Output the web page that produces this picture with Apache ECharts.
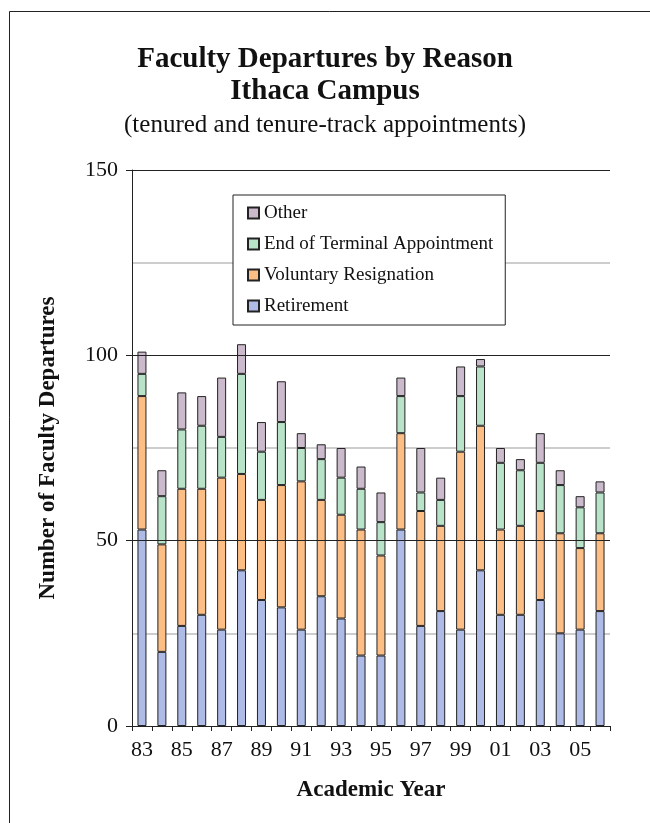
<!DOCTYPE html>
<html>
<head>
<meta charset="utf-8">
<script src="https://cdn.jsdelivr.net/npm/echarts@6/dist/echarts.min.js"></script>
<style>
  html, body { margin: 0; padding: 0; background: #fff; }
  #chart { width: 650px; height: 823px; }
</style>
</head>
<body>
<div id="chart"></div>
<script>
// academic years (tick labels)
const years = ['83', '84', '85', '86', '87', '88', '89', '90', '91', '92', '93', '94',
  '95', '96', '97', '98', '99', '00', '01', '02', '03', '04', '05', '06']

// departures by reason
const retirement = [53, 20, 27, 30, 26, 42, 34, 32, 26, 35, 29, 19, 19, 53, 27, 31, 26, 42, 30, 30, 34, 25, 26, 31]
const voluntary = [36, 29, 37, 34, 41, 26, 27, 33, 40, 26, 28, 34, 27, 26, 31, 23, 48, 39, 23, 24, 24, 27, 22, 21]
const terminal = [6, 13, 16, 17, 11, 27, 13, 17, 9, 11, 10, 11, 9, 10, 5, 7, 15, 16, 18, 15, 13, 13, 11, 11]
const other = [6, 7, 10, 8, 16, 8, 8, 11, 4, 4, 8, 6, 8, 5, 12, 6, 8, 2, 4, 3, 8, 4, 3, 3]

const FONT = 'Liberation Serif'
const INK = '#111'

const chart = echarts.init(document.getElementById('chart'), null, { renderer: 'canvas' })

// 柱子公共样式
const bar = (name, data, color) => ({
  name,
  type: 'bar',
  stack: 'total',
  barWidth: 9,
  yAxisIndex: 0,
  data,
  itemStyle: { color, borderColor: '#222', borderWidth: 1 },
  emphasis: { disabled: true }
})

const option = {
  backgroundColor: '#fff',
  animation: false,
  textStyle: { fontFamily: FONT, color: INK },

  title: [
    {
      text: 'Faculty Departures by Reason\nIthaca Campus',
      left: 'center',
      top: 44,
      padding: [0, 0, 0, 16],
      textStyle: { fontFamily: FONT, fontSize: 29, fontWeight: 'bold', color: INK, lineHeight: 32 }
    },
    {
      text: '(tenured and tenure-track appointments)',
      left: 'center',
      top: 111,
      padding: [0, 0, 0, 14],
      textStyle: { fontFamily: FONT, fontSize: 25, fontWeight: 'normal', color: INK, lineHeight: 28 }
    }
  ],

  legend: {
    orient: 'vertical',
    left: 233,
    top: 195,
    data: ['Other', 'End of Terminal Appointment', 'Voluntary Resignation', 'Retirement'],
    icon: 'rect',
    itemWidth: 11,
    itemHeight: 11,
    itemGap: 11,
    padding: [8, 12, 9, 14],
    backgroundColor: '#fff',
    borderColor: '#222',
    borderWidth: 1,
    selectedMode: false,
    textStyle: { fontFamily: FONT, fontSize: 19, lineHeight: 20, color: INK }
  },

  grid: { left: 132, right: 40, top: 170, bottom: 97 },

  xAxis: {
    type: 'category',
    data: years,
    boundaryGap: true,
    name: 'Academic Year',
    nameLocation: 'middle',
    nameGap: 53,
    nameTextStyle: { fontFamily: FONT, fontSize: 23, fontWeight: 'bold', color: INK },
    axisLine: { lineStyle: { color: '#222', width: 1 } },
    axisTick: { show: true, interval: 0, length: 5, lineStyle: { color: '#222' } },
    axisLabel: { interval: 1, margin: 13, fontFamily: FONT, fontSize: 22, color: INK },
    splitLine: { show: false }
  },

  yAxis: [
    // 主刻度
    {
      type: 'value',
      min: 0,
      max: 150,
      interval: 50,
      name: 'Number of Faculty Departures',
      nameLocation: 'middle',
      nameRotate: 90,
      nameGap: 72,
      nameTextStyle: { fontFamily: FONT, fontSize: 23, fontWeight: 'bold', color: INK },
      axisLine: { show: true, lineStyle: { color: '#222', width: 1 } },
      axisTick: { show: true, length: 6, lineStyle: { color: '#222' } },
      axisLabel: { margin: 14, fontFamily: FONT, fontSize: 22, color: INK },
      splitLine: { show: true, lineStyle: { color: '#222', width: 1 } },
      z: 3
    },
    // 次网格线 25 / 75 / 125
    {
      type: 'value',
      position: 'left',
      min: 0,
      max: 150,
      interval: 25,
      axisLine: { show: false },
      axisTick: { show: false },
      axisLabel: { show: false },
      splitLine: { show: true, lineStyle: { color: ['rgba(0,0,0,0)', '#bdbdbd'], width: 1.5 } },
      z: 1
    }
  ],

  graphic: [
    {
      type: 'polyline',
      silent: true,
      shape: { points: [[9.5, 823], [9.5, 11.5], [650, 11.5]] },
      style: { stroke: '#222', lineWidth: 1, fill: null }
    }
  ],

  series: [
    bar('Retirement', retirement, '#adbbe6'),
    bar('Voluntary Resignation', voluntary, '#fdbe86'),
    bar('End of Terminal Appointment', terminal, '#b8e3c8'),
    bar('Other', other, '#cbb9cc')
  ]
}

chart.setOption(option)
</script>
</body>
</html>
